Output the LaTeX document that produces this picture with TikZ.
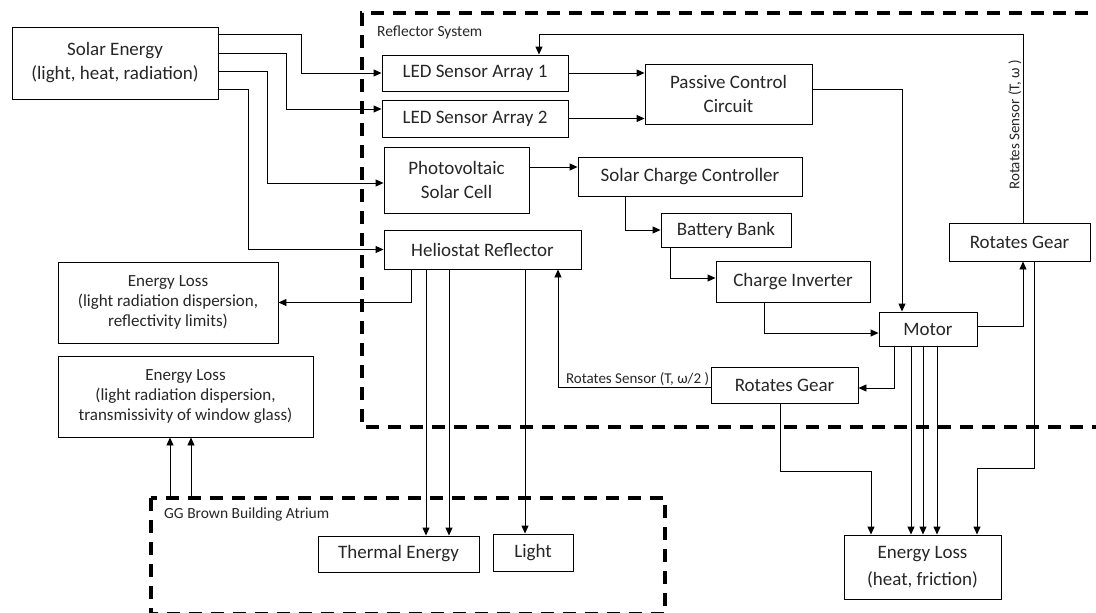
\documentclass[tikz,border=0pt]{standalone}
\usepackage{fontspec}
\setmainfont{Carlito}
\usetikzlibrary{arrows.meta}
\tikzset{
  box/.style={draw, line width=0.9pt, align=center, inner sep=2pt, text=black!85, font=\fontsize{19}{24}\selectfont},
  lossbox/.style={box, font=\fontsize{17}{20}\selectfont},
  arr/.style={line width=0.9pt, -{Triangle[length=8pt,width=7pt]}},
  bound/.style={line width=3.5pt, dash pattern=on 13pt off 9pt},
  tag/.style={inner sep=0pt, text=black!85, font=\fontsize{15.5}{18}\selectfont},
  senstag/.style={inner sep=1pt, text=black!85, font=\fontsize{15}{17}\selectfont}
}
\begin{document}
\begin{tikzpicture}[x=1pt,y=-1pt]
\clip (0,0) rectangle (1096,613);
% system borders
\draw[bound] (1110,13) -- (362,13) -- (362,427) -- (1110,427);
\draw[bound] (151,498) rectangle (665,614);
\node[tag, anchor=west] (reflab) at (377,32) {Reflector System};
\node[tag, anchor=west] (atrlab) at (164,514) {GG Brown Building Atrium};
\coordinate (atrtop) at (151,498);

% blocks
\node[box, minimum width=206pt, minimum height=72pt] (solar) at (115,63) {Solar Energy\\(light, heat, radiation)};
\node[box, minimum width=186pt, minimum height=36pt] (led1) at (475,73) {LED Sensor Array 1};
\node[box, minimum width=186pt, minimum height=37pt] (led2) at (475,118.5) {LED Sensor Array 2};
\node[box, minimum width=167pt, minimum height=60pt] (passive) at (728.5,94) {Passive Control\\Circuit};
\node[box, minimum width=145pt, minimum height=66pt] (pv) at (456.5,180) {Photovoltaic\\Solar Cell};
\node[box, minimum width=224pt, minimum height=39pt] (scc) at (690,176.5) {Solar Charge Controller};
\node[box, minimum width=130pt, minimum height=34pt] (battery) at (726,230) {Battery Bank};
\node[box, minimum width=154pt, minimum height=41pt] (inverter) at (793,281.5) {Charge Inverter};
\node[box, minimum width=197pt, minimum height=39pt] (helio) at (482.5,249.5) {Heliostat Reflector};
\node[lossbox, minimum width=220pt, minimum height=81pt] (loss1) at (168,302.5) {Energy Loss\\(light radiation dispersion,\\reflectivity limits)};
\node[lossbox, minimum width=255pt, minimum height=81pt] (loss2) at (185.5,396.5) {Energy Loss\\(light radiation dispersion,\\transmissivity of window glass)};
\node[box, minimum width=98pt, minimum height=34pt] (motor) at (928,329) {Motor};
\node[box, minimum width=141pt, minimum height=38pt] (gearR) at (1019.5,242) {Rotates Gear};
\node[box, minimum width=147pt, minimum height=36pt] (gearL) at (784.5,385) {Rotates Gear};
\node[box, minimum width=161pt, minimum height=36pt] (thermal) at (398.5,554) {Thermal Energy};
\node[box, minimum width=80pt, minimum height=37pt] (light) at (533,552.5) {Light};
\node[box, minimum width=157pt, minimum height=64pt, font=\fontsize{19}{27}\selectfont] (lossH) at (922.5,567) {Energy Loss\\(heat, friction)};

% solar input
\draw[arr] ([yshift=29pt]solar.east) -| ([xshift=-80pt]led1.west) -- (led1.west);
\draw[arr] ([yshift=10pt]solar.east) -| ([xshift=-95pt,yshift=9.5pt]led2.west) -- ([yshift=9.5pt]led2.west);
\draw[arr] ([yshift=-8pt]solar.east) -| ([xshift=-116pt,yshift=-3pt]pv.west) -- ([yshift=-3pt]pv.west);
\draw[arr] ([yshift=-26pt]solar.east) -| ([xshift=-135pt]helio.west) -- (helio.west);

% control and power
\draw[arr] (led1.east) -- (led1.east -| passive.west);
\draw[arr] (led2.east) -- (led2.east -| passive.west);
\draw[arr] ([yshift=5pt]passive.east) -| ([xshift=-26pt]motor.north);
\draw[arr] ([yshift=13pt]pv.east) -- ([yshift=9.5pt]scc.west);
\draw[arr] ([xshift=-65pt]scc.south) |- (battery.west);
\draw[arr] ([xshift=-56pt]battery.south) |- ([yshift=3.5pt]inverter.west);
\draw[arr] ([xshift=-29pt]inverter.south) |- ([yshift=-4pt]motor.west);

% gears and sensors
\draw[arr] ([yshift=3pt]motor.east) -| ([xshift=3.5pt]gearR.south);
\draw[arr] ([xshift=3.5pt]gearR.north) |- ([xshift=64pt,yshift=20pt]led1.north)
  node[senstag, pos=0.26, rotate=90, anchor=south] {Rotates Sensor (T, ω )} -- ([xshift=64pt]led1.north);
\draw[arr] ([xshift=-34pt]motor.south) |- ([yshift=-3pt]gearL.east);
\draw[arr] ([yshift=-2pt]gearL.west) node[senstag, anchor=south east] {Rotates Sensor (T, ω/2 )} -| ([xshift=75.5pt]helio.south);

% outputs
\draw[arr] ([xshift=-71.5pt]helio.south) |- (loss1.east);
\foreach \x in {426,449}
  \draw[arr] (helio.south -| \x,0) -- (thermal.north -| \x,0);
\draw[arr] (helio.south -| 525,0) -- (light.north -| 525,0);
\foreach \x in {170,191}
  \draw[arr] (atrtop -| \x,0) -- (loss2.south -| \x,0);
\draw[arr] (gearL.south -| 780,0) -- (780,471) -| (lossH.north -| 871,0);
\foreach \x in {911,923,937}
  \draw[arr] (motor.south -| \x,0) -- (lossH.north -| \x,0);
\draw[arr] (gearR.south -| 1034,0) -- (1034,468) -| (lossH.north -| 977,0);
\end{tikzpicture}
\end{document}
